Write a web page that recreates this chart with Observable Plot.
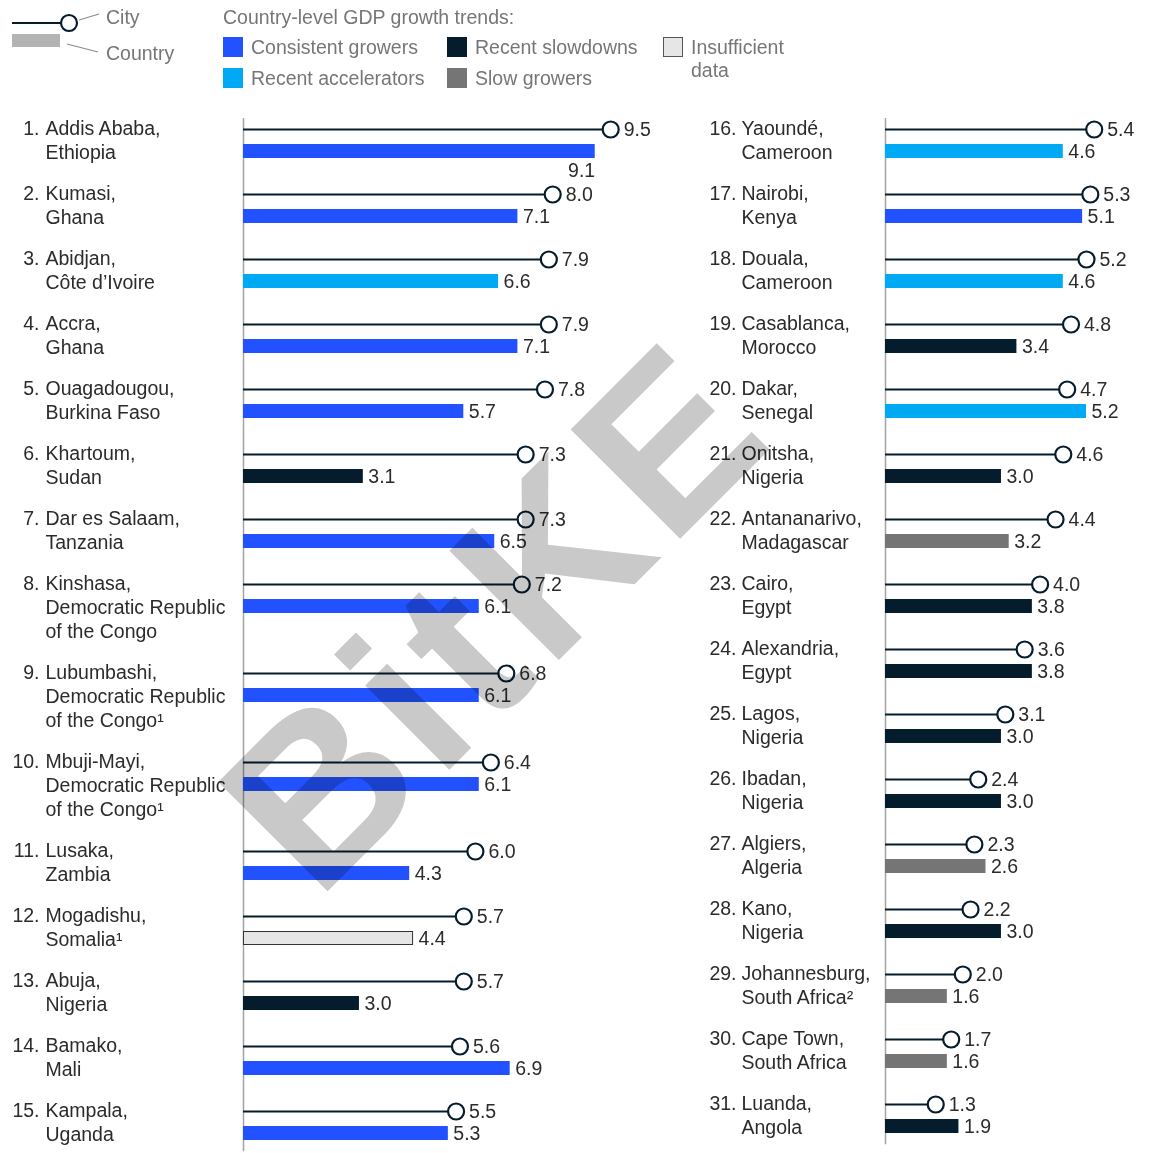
<!DOCTYPE html>
<html>
<head>
<meta charset="utf-8">
<script src="https://cdn.jsdelivr.net/npm/d3@7"></script>
<script src="https://cdn.jsdelivr.net/npm/@observablehq/plot@0.6"></script>
<style>
  body { margin: 0; background: #fff; font-family: "Liberation Sans", Arial, sans-serif; }
  #wrap { position: relative; width: 1150px; height: 1153px; overflow: hidden; background: #fff; }
  #legend { position: absolute; left: 0; top: 0; }
  #left { position: absolute; left: 0; top: 100px; }
  #right { position: absolute; left: 700px; top: 100px; }
  #wm { position: absolute; left: 0; top: 0; pointer-events: none; mix-blend-mode: multiply; }
</style>
</head>
<body>
<div id="wrap">
  <div id="legend"></div>
  <div id="left"></div>
  <div id="right"></div>
</div>
<script>
// ---------- DATA ----------
const trends = ["Consistent growers", "Recent accelerators", "Recent slowdowns", "Slow growers", "Insufficient data"];
const trendColors = ["#2251FF", "#00A9F4", "#051C2C", "#757575", "#E6E6E6"];

const leftCities = [
  "Addis Ababa,\nEthiopia", "Kumasi,\nGhana", "Abidjan,\nCôte d’Ivoire", "Accra,\nGhana",
  "Ouagadougou,\nBurkina Faso", "Khartoum,\nSudan", "Dar es Salaam,\nTanzania",
  "Kinshasa,\nDemocratic Republic\nof the Congo", "Lubumbashi,\nDemocratic Republic\nof the Congo¹",
  "Mbuji-Mayi,\nDemocratic Republic\nof the Congo¹", "Lusaka,\nZambia", "Mogadishu,\nSomalia¹",
  "Abuja,\nNigeria", "Bamako,\nMali", "Kampala,\nUganda"
];
const leftCityGrowth = [9.5, 8.0, 7.9, 7.9, 7.8, 7.3, 7.3, 7.2, 6.8, 6.4, 6.0, 5.7, 5.7, 5.6, 5.5];
const leftCountryGrowth = [9.1, 7.1, 6.6, 7.1, 5.7, 3.1, 6.5, 6.1, 6.1, 6.1, 4.3, 4.4, 3.0, 6.9, 5.3];
const leftTrend = [
  "Consistent growers", "Consistent growers", "Recent accelerators", "Consistent growers",
  "Consistent growers", "Recent slowdowns", "Consistent growers", "Consistent growers",
  "Consistent growers", "Consistent growers", "Consistent growers", "Insufficient data",
  "Recent slowdowns", "Consistent growers", "Consistent growers"
];

const rightCities = [
  "Yaoundé,\nCameroon", "Nairobi,\nKenya", "Douala,\nCameroon", "Casablanca,\nMorocco",
  "Dakar,\nSenegal", "Onitsha,\nNigeria", "Antananarivo,\nMadagascar", "Cairo,\nEgypt",
  "Alexandria,\nEgypt", "Lagos,\nNigeria", "Ibadan,\nNigeria", "Algiers,\nAlgeria",
  "Kano,\nNigeria", "Johannesburg,\nSouth Africa²", "Cape Town,\nSouth Africa", "Luanda,\nAngola"
];
const rightCityGrowth = [5.4, 5.3, 5.2, 4.8, 4.7, 4.6, 4.4, 4.0, 3.6, 3.1, 2.4, 2.3, 2.2, 2.0, 1.7, 1.3];
const rightCountryGrowth = [4.6, 5.1, 4.6, 3.4, 5.2, 3.0, 3.2, 3.8, 3.8, 3.0, 3.0, 2.6, 3.0, 1.6, 1.6, 1.9];
const rightTrend = [
  "Recent accelerators", "Consistent growers", "Recent accelerators", "Recent slowdowns",
  "Recent accelerators", "Recent slowdowns", "Slow growers", "Recent slowdowns",
  "Recent slowdowns", "Recent slowdowns", "Recent slowdowns", "Slow growers",
  "Recent slowdowns", "Slow growers", "Slow growers", "Recent slowdowns"
];

const legendTitle = "Country-level GDP growth trends:";

// ---------- LEGEND ----------
const FONT = "'Liberation Sans', Arial, sans-serif";
const FS = 19.5;
const TXT = "#2b2b2b";
const LEG = "#767676";
const DARK = "#051C2C";

(function legend() {
  const svg = d3.create("svg").attr("width", 1150).attr("height", 100)
    .attr("font-family", FONT).attr("font-size", FS);
  svg.append("line").attr("x1", 12).attr("x2", 61).attr("y1", 23).attr("y2", 23)
    .attr("stroke", DARK).attr("stroke-width", 2);
  svg.append("circle").attr("cx", 69).attr("cy", 23).attr("r", 8)
    .attr("fill", "#fff").attr("stroke", DARK).attr("stroke-width", 2.2);
  svg.append("line").attr("x1", 79).attr("y1", 20).attr("x2", 99).attr("y2", 14)
    .attr("stroke", "#8a8a8a").attr("stroke-width", 1.2);
  svg.append("text").attr("x", 106).attr("y", 17).attr("dy", "0.35em").attr("fill", LEG).text("City");
  svg.append("rect").attr("x", 12).attr("y", 34).attr("width", 48).attr("height", 13).attr("fill", "#b3b3b3");
  svg.append("line").attr("x1", 67).attr("y1", 44).attr("x2", 98).attr("y2", 52)
    .attr("stroke", "#8a8a8a").attr("stroke-width", 1.2);
  svg.append("text").attr("x", 106).attr("y", 53).attr("dy", "0.35em").attr("fill", LEG).text("Country");
  svg.append("text").attr("x", 223).attr("y", 17).attr("dy", "0.35em").attr("fill", LEG).text(legendTitle);
  const slots = [[223, 37], [223, 68], [447, 37], [447, 68], [663, 37]];
  trends.forEach((t, i) => {
    const [x, y] = slots[i];
    svg.append("rect").attr("x", x + (i === 4 ? 0.5 : 0)).attr("y", y + (i === 4 ? 0.5 : 0))
      .attr("width", i === 4 ? 19 : 20).attr("height", i === 4 ? 19 : 20)
      .attr("fill", trendColors[i]).attr("stroke", i === 4 ? "#555" : "none").attr("stroke-width", 1);
    const lines = t === "Insufficient data" ? ["Insufficient", "data"] : [t];
    lines.forEach((ln, j) => {
      svg.append("text").attr("x", x + 28).attr("y", y + 10 + j * 23).attr("dy", "0.35em")
        .attr("fill", LEG).text(ln);
    });
  });
  document.getElementById("legend").appendChild(svg.node());
})();

// ---------- PANELS ----------
function panel(cities, cityG, countryG, trend, startRank, width, axisX) {
  let pos = 0;
  const data = cities.map((name, i) => {
    const d = {rank: startRank + i, name, city: cityG[i], country: countryG[i], trend: trend[i], pos};
    pos += 1 + (name.split("\n").length - 2) * 24 / 65;
    return d;
  });
  const first = data[0].pos, last = data[data.length - 1].pos;
  const below = d => d.country > 9;
  const fmt = v => v.toFixed(1);
  return Plot.plot({
    width, height: 1053, margin: 0,
    style: {fontFamily: FONT, fontSize: FS + "px", color: TXT, background: "transparent", overflow: "visible"},
    x: {domain: [0, 10], range: [axisX, axisX + 386.5], axis: null},
    y: {domain: [0, 16], range: [29, 29 + 16 * 65], axis: null},
    color: {domain: trends, range: trendColors},
    marks: [
      Plot.ruleX([0], {y1: first - 0.17, y2: last + 0.62, stroke: "#a3a3a3", strokeWidth: 1.5}),
      Plot.rect(data, {x1: 0, x2: "country", y1: d => d.pos + 0.231, y2: d => d.pos + 0.446, fill: "trend"}),
      Plot.rect(data.filter(d => d.trend === "Insufficient data"),
        {x1: 0, x2: "country", y1: d => d.pos + 0.231, y2: d => d.pos + 0.446, fill: "none", stroke: "#333", strokeWidth: 1, inset: 0.5}),
      Plot.ruleY(data, {y: "pos", x1: 0, x2: "city", stroke: DARK, strokeWidth: 2}),
      Plot.dot(data, {x: "city", y: "pos", r: 8, fill: "white", stroke: DARK, strokeWidth: 2.2}),
      Plot.text(data, {x: "city", y: "pos", text: d => fmt(d.city), dx: 13, textAnchor: "start", fontSize: FS, fill: TXT}),
      Plot.text(data.filter(d => !below(d)), {x: "country", y: d => d.pos + 0.338, text: d => fmt(d.country), dx: 5, textAnchor: "start", fontSize: FS, fill: TXT}),
      Plot.text(data.filter(below), {x: "country", y: d => d.pos + 0.63, text: d => fmt(d.country), textAnchor: "end", fontSize: FS, fill: TXT}),
      Plot.text(data, {x: 0, y: "pos", text: d => d.rank + ".", textAnchor: "end", dx: axisX === 243 ? -204 : -149, dy: -1, fontSize: FS, fill: TXT}),
      Plot.text(data, {x: 0, y: "pos", text: "name", textAnchor: "start", lineAnchor: "top", lineHeight: 1.237,
        dx: axisX === 243 ? -198 : -144, dy: -11.5, fontSize: FS, fill: TXT})
    ]
  });
}

document.getElementById("left").appendChild(
  panel(leftCities, leftCityGrowth, leftCountryGrowth, leftTrend, 1, 700, 243));
document.getElementById("right").appendChild(
  panel(rightCities, rightCityGrowth, rightCountryGrowth, rightTrend, 16, 450, 185));

// ---------- WATERMARK ----------
(function watermark() {
  const svg = d3.create("svg").attr("id", "wm").attr("width", 1150).attr("height", 1153);
  svg.append("text").attr("transform", "translate(317,902) rotate(-45)")
    .attr("font-family", FONT).attr("font-weight", "bold").attr("font-size", 225)
    .attr("letter-spacing", 9).attr("fill", "#c9c9c9").text("BitKE");
  document.getElementById("wrap").appendChild(svg.node());
})();
</script>
</body>
</html>
